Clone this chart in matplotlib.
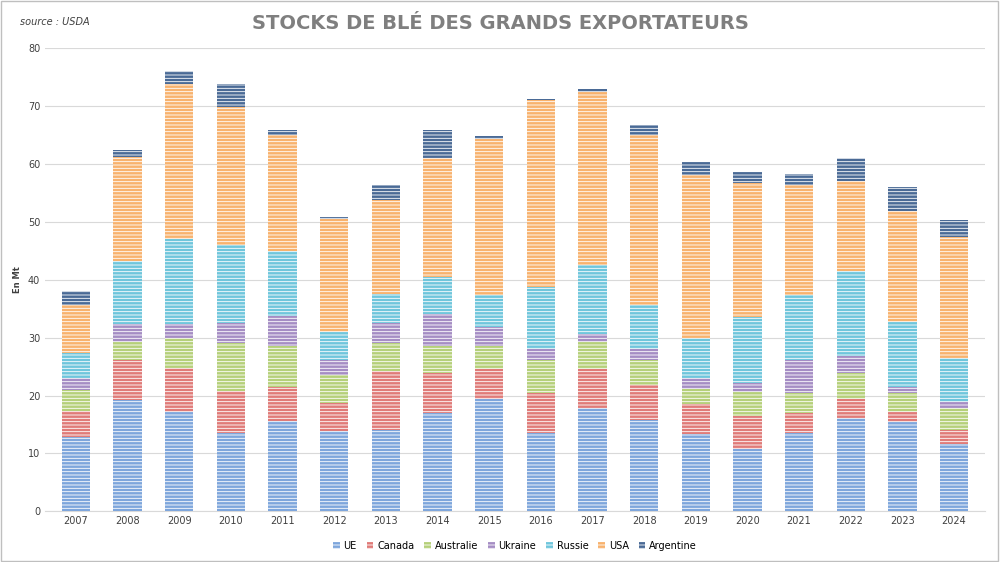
import matplotlib.pyplot as plt
import numpy as np

years = [str(y) for y in range(2007, 2025)]

ue = [12.9, 19.3, 17.1, 13.6, 15.6, 13.9, 14.0, 16.9, 19.4, 13.6, 17.9, 15.8, 13.3, 10.7, 13.5, 16.2, 15.4, 11.6]
canada = [4.5, 6.9, 7.7, 7.1, 5.9, 4.8, 10.3, 6.9, 5.2, 6.8, 6.7, 6.0, 5.3, 5.7, 3.5, 3.2, 1.7, 2.5]
australie = [3.6, 3.0, 5.2, 8.3, 7.1, 4.8, 4.7, 4.8, 3.9, 5.8, 4.6, 4.4, 2.6, 4.2, 3.4, 4.5, 3.4, 3.8]
ukraine = [2.0, 3.1, 2.3, 3.5, 5.2, 2.7, 3.5, 5.4, 3.4, 1.8, 1.4, 1.8, 1.8, 1.6, 5.8, 3.0, 1.0, 0.9]
russie = [4.4, 10.9, 14.7, 13.5, 11.1, 4.8, 5.1, 6.5, 5.5, 10.8, 11.9, 7.6, 7.0, 11.3, 11.1, 14.6, 11.2, 7.6]
usa = [8.2, 18.0, 26.8, 23.8, 20.1, 19.5, 16.2, 20.5, 26.8, 32.2, 29.9, 29.4, 28.0, 23.1, 19.0, 15.5, 19.1, 20.9]
argentine = [2.4, 1.1, 2.2, 4.0, 0.8, 0.3, 2.5, 4.8, 0.6, 0.2, 0.4, 1.7, 2.3, 2.0, 2.0, 3.9, 4.1, 3.0]

series = [("UE", ue, "#7ea6dc"), ("Canada", canada, "#e07b78"),
          ("Australie", australie, "#b5d07a"), ("Ukraine", ukraine, "#a58dc4"),
          ("Russie", russie, "#6fc6dc"), ("USA", usa, "#f8b26e"),
          ("Argentine", argentine, "#4a6a96")]

plt.rcParams["hatch.linewidth"] = 0.6
fig, ax = plt.subplots(figsize=(10, 5.62), dpi=100)
fig.subplots_adjust(left=0.045, right=0.985, top=0.915, bottom=0.09)

x = np.arange(len(years))
bottom = np.zeros(len(years))
for name, vals, col in series:
    ax.bar(x, vals, 0.55, bottom=bottom, color=col, edgecolor="white",
           hatch="-----", linewidth=0, label=name, zorder=3)
    bottom += np.array(vals)

ax.set_ylim(0, 80)
ax.set_yticks(range(0, 81, 10))
ax.set_xlim(-0.6, len(years) - 0.4)
ax.set_xticks(x)
ax.set_xticklabels(years)
ax.tick_params(labelsize=7, length=0, colors="#404040")
ax.grid(axis="y", color="#d9d9d9", linewidth=0.8, zorder=0)
for s in ["top", "right", "left"]:
    ax.spines[s].set_visible(False)
ax.spines["bottom"].set_color("#d9d9d9")
ax.set_ylabel("En Mt", fontsize=6, fontweight="bold", color="#404040")

fig.suptitle("STOCKS DE BLÉ DES GRANDS EXPORTATEURS", x=0.5, y=0.975,
             fontsize=14, fontweight="bold", color="#7f7f7f")
fig.text(0.02, 0.955, "source : USDA", fontsize=7, style="italic", color="#404040")
ax.legend(loc="upper center", bbox_to_anchor=(0.5, -0.045), ncol=7, frameon=False,
          fontsize=7, handlelength=0.7, handleheight=0.7, columnspacing=1.0,
          handletextpad=0.4)
fig.patches.append(plt.Rectangle((0.001, 0.001), 0.997, 0.997, transform=fig.transFigure,
                                 fill=False, edgecolor="#bfbfbf", linewidth=1))

fig.savefig("out.png")
